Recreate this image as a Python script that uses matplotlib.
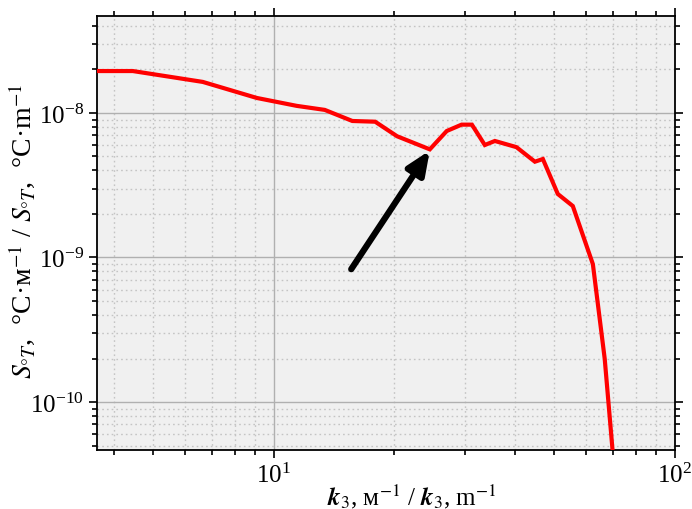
import numpy as np
import matplotlib.pyplot as plt
from matplotlib.ticker import LogLocator, NullFormatter

plt.rcParams['font.family'] = ['Liberation Serif', 'DejaVu Serif']
plt.rcParams['mathtext.fontset'] = 'stix'

# wavenumber k3, 1/m
k3 = [3.62, 4.45, 6.65, 9.07, 11.4, 13.4, 15.7, 17.9, 20.3, 24.5, 27.0,
      29.4, 31.2, 33.6, 35.6, 40.3, 44.8, 46.9, 51.1, 55.7, 62.5, 66.9, 70.0, 71.0]
# spectrum S_oT
s_ot = [1.95e-8, 1.95e-8, 1.64e-8, 1.27e-8, 1.12e-8, 1.05e-8, 8.8e-9, 8.7e-9,
        6.9e-9, 5.6e-9, 7.5e-9, 8.3e-9, 8.3e-9, 6.0e-9, 6.4e-9, 5.8e-9,
        4.6e-9, 4.8e-9, 2.75e-9, 2.27e-9, 9.0e-10, 1.99e-10, 4.6e-11, 2.0e-11]

arrow_tail = (15.6, 8.3e-10)
arrow_head = (24.5, 5.5e-9)

fig = plt.figure(figsize=(6.92, 5.1), dpi=100)
ax = fig.add_axes([0.140, 0.1157, 0.835, 0.851])
ax.set_facecolor('#f0f0f0')

ax.plot(k3, s_ot, color='#ff0000', lw=3, solid_joinstyle='miter', zorder=3)

ax.set_xscale('log')
ax.set_yscale('log')
ax.set_xlim(3.62, 100)
ax.set_ylim(10 ** -10.332, 10 ** -7.329)

ax.xaxis.set_major_locator(LogLocator(base=10, numticks=10))
ax.yaxis.set_major_locator(LogLocator(base=10, numticks=10))
ax.xaxis.set_minor_locator(LogLocator(base=10, subs=np.arange(2, 10), numticks=20))
ax.yaxis.set_minor_locator(LogLocator(base=10, subs=np.arange(2, 10), numticks=20))
ax.xaxis.set_minor_formatter(NullFormatter())
ax.yaxis.set_minor_formatter(NullFormatter())

ax.grid(True, which='major', color='#b0b0b0', lw=1.0, ls='-')
ax.grid(True, which='minor', color='#c4c4c4', lw=1.0, ls=(0, (1.2, 2.2)))
ax.set_axisbelow(True)

ax.tick_params(which='both', direction='out', top=True, right=True,
               labelsize=18, color='black', width=1.2)
ax.tick_params(which='major', length=6)
ax.tick_params(which='minor', length=3.5)
for sp in ax.spines.values():
    sp.set_linewidth(1.3)

ax.annotate('', xy=arrow_head, xytext=arrow_tail,
            arrowprops=dict(arrowstyle='-|>,head_length=1.4,head_width=0.6',
                            color='black', lw=4.5, shrinkA=0, shrinkB=0),
            zorder=4)

ax.set_xlabel(r'$\mathbfit{k}_3$, м$^{-1}$ / $\mathbfit{k}_3$, m$^{-1}$',
              fontsize=18)
ax.set_ylabel(r'$S_{°T}$,  °C·м$^{-1}$ / $S_{°T}$,  °C·m$^{-1}$',
              fontsize=20)
ax.xaxis.set_label_coords(0.545, -0.072)
ax.yaxis.set_label_coords(-0.104, 0.505)

fig.savefig('out.png', dpi=100)
